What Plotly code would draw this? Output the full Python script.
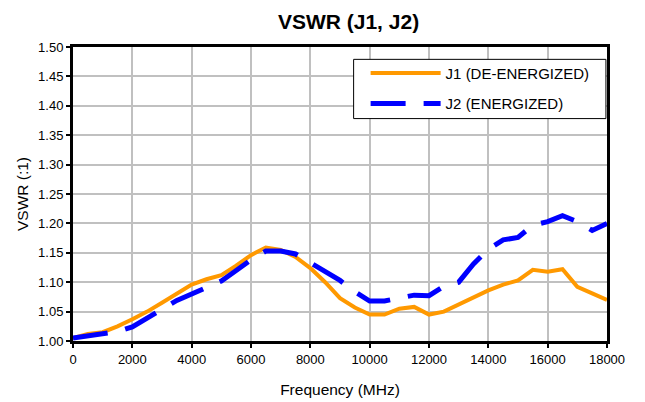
import plotly.graph_objects as go

freq = [0, 500, 1000, 1500, 2000, 2500, 3000, 3500, 4000, 4500, 5000, 5500, 6000,
        6500, 7000, 7500, 8000, 8500, 9000, 9500, 10000, 10500, 11000, 11500, 12000,
        12500, 13000, 13500, 14000, 14500, 15000, 15500, 16000, 16500, 17000, 17500, 18000]

j1_vswr = [1.005, 1.012, 1.015, 1.025, 1.037, 1.050, 1.065, 1.080, 1.096, 1.105, 1.112,
           1.128, 1.146, 1.159, 1.155, 1.143, 1.124, 1.100, 1.073, 1.057, 1.045, 1.045,
           1.055, 1.058, 1.045, 1.050, 1.062, 1.073, 1.086, 1.096, 1.103, 1.121, 1.118,
           1.122, 1.092, 1.081, 1.070]

j2_vswr = [1.005, 1.009, 1.012, 1.016, 1.024, 1.038, 1.054, 1.069, 1.080, 1.090, 1.102,
           1.120, 1.138, 1.153, 1.153, 1.148, 1.133, 1.117, 1.103, 1.084, 1.068, 1.068,
           1.072, 1.078, 1.077, 1.093, 1.100, 1.131, 1.156, 1.172, 1.176, 1.197, 1.203,
           1.213, 1.203, 1.188, 1.200]

x_ticks = [0, 2000, 4000, 6000, 8000, 10000, 12000, 14000, 16000, 18000]
y_ticks = [1.00, 1.05, 1.10, 1.15, 1.20, 1.25, 1.30, 1.35, 1.40, 1.45, 1.50]

FONT = "Liberation Sans, Arial, sans-serif"

fig = go.Figure()
fig.add_trace(go.Scatter(x=freq, y=j1_vswr, mode="lines", name="J1 (DE-ENERGIZED)",
                         legendgroup="a",
                         line=dict(color="#FF9900", width=4)))
fig.add_trace(go.Scatter(x=freq, y=j2_vswr, mode="lines", name="J2 (ENERGIZED)",
                         legendgroup="b",
                         line=dict(color="#0000FF", width=5, dash="35px,18px")))

# legend frame (box behind the native legend)
fig.add_shape(type="rect", xref="paper", yref="paper",
              x0=0.5255, x1=0.998, y0=0.7565, y1=0.958,
              fillcolor="white", line=dict(color="black", width=1), layer="above")

fig.update_layout(
    width=645, height=402,
    margin=dict(l=65, r=46, t=39, b=69),
    paper_bgcolor="white", plot_bgcolor="white",
    font=dict(family=FONT, size=13, color="black"),
    title=dict(text="<b>VSWR (J1, J2)</b>", x=0.528, xanchor="center", y=0.967, yanchor="middle",
               font=dict(family=FONT, size=21, color="black")),
    showlegend=True,
    legend=dict(x=0.5255, xanchor="left", y=0.967, yanchor="top",
                bgcolor="rgba(0,0,0,0)", borderwidth=0,
                font=dict(family=FONT, size=15, color="black"),
                tracegroupgap=8, itemwidth=70, indentation=12),
)
fig.update_xaxes(range=[0, 18000], tickvals=x_ticks, ticktext=[str(v) for v in x_ticks],
                 showgrid=True, gridcolor="#C0C0C0", gridwidth=2,
                 showline=True, linecolor="black", linewidth=3, mirror=True,
                 ticks="outside", ticklen=4, tickwidth=2, tickcolor="black",
                 tickfont=dict(family=FONT, size=13),
                 title=dict(text="Frequency (MHz)", font=dict(family=FONT, size=15.5), standoff=19),
                 zeroline=False)
fig.update_yaxes(range=[1.0, 1.5], tickvals=y_ticks, ticktext=[f"{v:.2f}" for v in y_ticks],
                 showgrid=True, gridcolor="#C0C0C0", gridwidth=2,
                 showline=True, linecolor="black", linewidth=3, mirror=True,
                 ticks="outside", ticklen=4, tickwidth=2, tickcolor="black",
                 tickfont=dict(family=FONT, size=13),
                 title=dict(text="VSWR (:1)", font=dict(family=FONT, size=15.5), standoff=6),
                 zeroline=False)

fig.write_html("out.html")
